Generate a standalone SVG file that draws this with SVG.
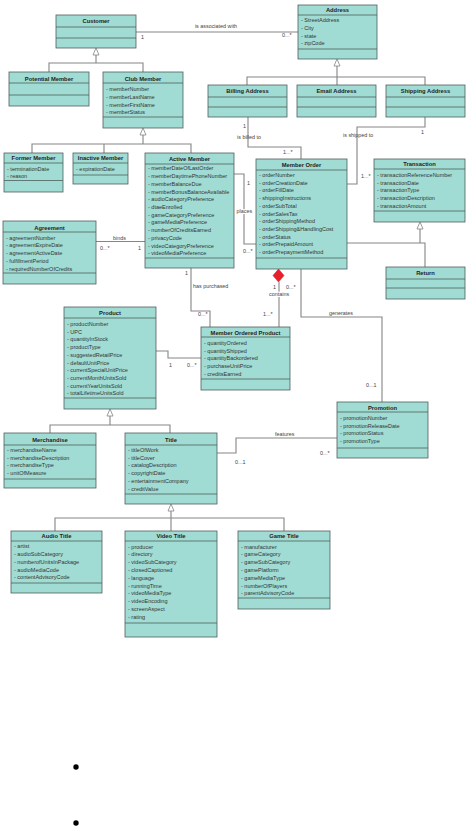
<svg xmlns="http://www.w3.org/2000/svg" width="468" height="826" viewBox="0 0 468 826">
<style>
.n rect{fill:#a0dcd3;stroke:#4f5f5c;stroke-width:0.8}
.n line{stroke:#4f5f5c;stroke-width:0.8}
.h{font-family:"Liberation Sans",Arial,sans-serif;font-size:5.8px;font-weight:bold;fill:#222;text-anchor:middle}
.a{font-family:"Liberation Sans",Arial,sans-serif;font-size:5.5px;fill:#333}
.c path{stroke:#858585;stroke-width:1.1;fill:none}
.c .tri{fill:#fff;stroke:#858585;stroke-width:0.8}
.c .dia{fill:#e8202a;stroke:#e8202a;stroke-width:0.6}
.lb{font-family:"Liberation Sans",Arial,sans-serif;font-size:5.4px;fill:#444}
.halo{paint-order:stroke;stroke:#fff;stroke-width:2.2px;stroke-linejoin:round}
</style>
<rect width="468" height="826" fill="#fff"/>

<g id="connectors" class="c">
  <path d="M136,32 H298"/>
  <path class="tri" d="M96,48 L93,55 L99,55 Z"/>
  <path d="M96,55 V63 M49,72 V63 H143 V72"/>
  <path class="tri" d="M337,59 L334,66 L340,66 Z"/>
  <path d="M337,66 V85 M247,85 V77 H425 V85"/>
  <path class="tri" d="M143,128 L140,135 L146,135 Z"/>
  <path d="M143,135 V144 M32,153 V144 H191 V153 M104,144 V153"/>
  <path d="M248,117 V147 H301 V159"/>
  <path d="M425,117 V127 H357 V184 H347"/>
  <path d="M234,174 H244 V244 H256"/>
  <path d="M96,241.5 H145"/>
  <path d="M191,268 V311 H210 V327"/>
  <path d="M156,351 H168 V358 H201"/>
  <path d="M279,282 V327"/>
  <path class="dia" d="M278.5,269 L284,275.5 L278.5,282 L273,275.5 Z"/>
  <path d="M301,269 V317 H382 V402"/>
  <path class="tri" d="M420,222 L417,229 L423,229 Z"/>
  <path d="M420,229 V243 M347,243 H425 V267"/>
  <path class="tri" d="M110,409 L107,416 L113,416 Z"/>
  <path d="M110,416 V425 M50,433 V425 H170 V433"/>
  <path d="M217,453 H236 V438 H337"/>
  <path class="tri" d="M171,504 L168,511 L174,511 Z"/>
  <path d="M171,511 V531 M55,531 V518 H284 V531"/>
  <text class="lb" x="216" y="28" text-anchor="middle">is associated with</text>
  <text class="lb" x="141" y="39">1</text>
  <text class="lb" x="282" y="37">0...*</text>
  <text class="lb" x="243" y="128">1</text>
  <text class="lb" x="237" y="139">is billed to</text>
  <text class="lb" x="283" y="154">1...*</text>
  <text class="lb" x="421" y="134">1</text>
  <text class="lb" x="343" y="137">is shipped to</text>
  <text class="lb" x="361" y="178">1...*</text>
  <text class="lb" x="247" y="185">1</text>
  <text class="lb halo" x="236.5" y="213">places</text>
  <text class="lb" x="243" y="253">0...*</text>
  <text class="lb" x="113" y="239.5">binds</text>
  <text class="lb" x="100" y="250">0...*</text>
  <text class="lb" x="138" y="250">1</text>
  <text class="lb" x="185" y="275">1</text>
  <text class="lb" x="193" y="288">has purchased</text>
  <text class="lb" x="198" y="316">0...*</text>
  <text class="lb" x="169" y="367">1</text>
  <text class="lb" x="187" y="367">0...*</text>
  <text class="lb" x="273" y="289">1</text>
  <text class="lb" x="286" y="289">0...*</text>
  <text class="lb halo" x="269" y="295.5">contains</text>
  <text class="lb" x="263" y="316">1...*</text>
  <text class="lb" x="329" y="314.5">generates</text>
  <text class="lb" x="366" y="387">0...1</text>
  <text class="lb" x="275" y="435.5">features</text>
  <text class="lb" x="235" y="464">0...1</text>
  <text class="lb" x="320" y="455">0...*</text>
</g>

<g id="customer" class="n">
  <rect x="56" y="15" width="80" height="33"/>
  <line x1="56" y1="27" x2="136" y2="27"/><line x1="56" y1="38" x2="136" y2="38"/>
  <text class="h" x="96" y="23">Customer</text>
</g>

<g id="address" class="n">
  <rect x="298" y="5" width="79" height="54"/>
  <line x1="298" y1="15" x2="377" y2="15"/><line x1="298" y1="49" x2="377" y2="49"/>
  <text class="h" x="337.5" y="12">Address</text>
  <text class="a" x="301" y="22.3">- StreetAddress</text>
  <text class="a" x="301" y="30">- City</text>
  <text class="a" x="301" y="37.7">- state</text>
  <text class="a" x="301" y="45.4">- zipCode</text>
</g>

<g id="potential-member" class="n">
  <rect x="9" y="72" width="80" height="34"/>
  <line x1="9" y1="83" x2="89" y2="83"/><line x1="9" y1="95" x2="89" y2="95"/>
  <text class="h" x="49" y="80.5">Potential Member</text>
</g>

<g id="club-member" class="n">
  <rect x="103" y="72" width="80" height="56"/>
  <line x1="103" y1="83" x2="183" y2="83"/><line x1="103" y1="117" x2="183" y2="117"/>
  <text class="h" x="143" y="80.5">Club Member</text>
  <text class="a" x="106" y="91.3">- memberNumber</text>
  <text class="a" x="106" y="99">- memberLastName</text>
  <text class="a" x="106" y="106.7">- memberFirstName</text>
  <text class="a" x="106" y="114.4">- memberStatus</text>
</g>

<g id="billing-address" class="n">
  <rect x="208" y="85" width="79" height="32"/>
  <line x1="208" y1="97" x2="287" y2="97"/><line x1="208" y1="107" x2="287" y2="107"/>
  <text class="h" x="247.5" y="93">Billing Address</text>
</g>

<g id="email-address" class="n">
  <rect x="297" y="85" width="79" height="32"/>
  <line x1="297" y1="97" x2="376" y2="97"/><line x1="297" y1="107" x2="376" y2="107"/>
  <text class="h" x="336.5" y="93">Email Address</text>
</g>

<g id="shipping-address" class="n">
  <rect x="386" y="85" width="79" height="32"/>
  <line x1="386" y1="97" x2="465" y2="97"/><line x1="386" y1="107" x2="465" y2="107"/>
  <text class="h" x="425.5" y="93">Shipping Address</text>
</g>

<g id="former-member" class="n">
  <rect x="4" y="153" width="59" height="39"/>
  <line x1="4" y1="163" x2="63" y2="163"/><line x1="4" y1="180.5" x2="63" y2="180.5"/>
  <text class="h" x="33.5" y="160">Former Member</text>
  <text class="a" x="7" y="171">- terminationDate</text>
  <text class="a" x="7" y="178.3">- reason</text>
</g>

<g id="inactive-member" class="n">
  <rect x="73" y="153" width="55" height="31"/>
  <line x1="73" y1="163" x2="128" y2="163"/><line x1="73" y1="175" x2="128" y2="175"/>
  <text class="h" x="100.5" y="160">Inactive Member</text>
  <text class="a" x="76" y="171">- expirationDate</text>
</g>

<g id="active-member" class="n">
  <rect x="145" y="153" width="89" height="115"/>
  <line x1="145" y1="164" x2="234" y2="164"/><line x1="145" y1="258" x2="234" y2="258"/>
  <text class="h" x="189.5" y="161">Active Member</text>
  <text class="a" x="148" y="170.3">- memberDateOfLastOrder</text>
  <text class="a" x="148" y="178">- memberDaytimePhoneNumber</text>
  <text class="a" x="148" y="185.8">- memberBalanceDue</text>
  <text class="a" x="148" y="193.5">- memberBonusBalanceAvailable</text>
  <text class="a" x="148" y="201.2">- audioCategoryPreference</text>
  <text class="a" x="148" y="209">- dtaeEnrolled</text>
  <text class="a" x="148" y="216.7">- gameCategoryPreference</text>
  <text class="a" x="148" y="224.4">- gameMediaPreference</text>
  <text class="a" x="148" y="232.1">- numberOfCreditsEarned</text>
  <text class="a" x="148" y="239.9">- privacyCode</text>
  <text class="a" x="148" y="247.6">- videoCategoryPreference</text>
  <text class="a" x="148" y="255.3">- videoMediaPreference</text>
</g>

<g id="member-order" class="n">
  <rect x="256" y="159" width="91" height="110"/>
  <line x1="256" y1="170" x2="347" y2="170"/><line x1="256" y1="258" x2="347" y2="258"/>
  <text class="h" x="301.5" y="166.5">Member Order</text>
  <text class="a" x="259" y="177">- orderNumber</text>
  <text class="a" x="259" y="184.7">- orderCreationDate</text>
  <text class="a" x="259" y="192.4">- orderFillDate</text>
  <text class="a" x="259" y="200.1">- shippingInstructions</text>
  <text class="a" x="259" y="207.8">- orderSubTotal</text>
  <text class="a" x="259" y="215.5">- orderSalesTax</text>
  <text class="a" x="259" y="223.2">- orderShippingMethod</text>
  <text class="a" x="259" y="230.9">- orderShipping&amp;HandlingCost</text>
  <text class="a" x="259" y="238.6">- orderStatus</text>
  <text class="a" x="259" y="246.3">- orderPrepaidAmount</text>
  <text class="a" x="259" y="254">- orderPrepaymentMethod</text>
</g>

<g id="transaction" class="n">
  <rect x="374" y="159" width="91" height="63"/>
  <line x1="374" y1="169" x2="465" y2="169"/><line x1="374" y1="211" x2="465" y2="211"/>
  <text class="h" x="419.5" y="166">Transaction</text>
  <text class="a" x="377" y="177">- transactionReferenceNumber</text>
  <text class="a" x="377" y="184.7">- transactionDate</text>
  <text class="a" x="377" y="192.4">- transactionType</text>
  <text class="a" x="377" y="200.1">- transactionDescription</text>
  <text class="a" x="377" y="207.8">- transactionAmount</text>
</g>

<g id="return" class="n">
  <rect x="386" y="267" width="79" height="32"/>
  <line x1="386" y1="279" x2="465" y2="279"/><line x1="386" y1="288" x2="465" y2="288"/>
  <text class="h" x="425.5" y="275">Return</text>
</g>

<g id="agreement" class="n">
  <rect x="3" y="221" width="93" height="63"/>
  <line x1="3" y1="232" x2="96" y2="232"/><line x1="3" y1="273" x2="96" y2="273"/>
  <text class="h" x="49.5" y="229.5">Agreement</text>
  <text class="a" x="6" y="239.7">- agreementNumber</text>
  <text class="a" x="6" y="247.4">- agreementExpireDate</text>
  <text class="a" x="6" y="255.1">- agreementActiveDate</text>
  <text class="a" x="6" y="262.8">- fulfillmentPeriod</text>
  <text class="a" x="6" y="270.5">- requiredNumberOfCredits</text>
</g>

<g id="product" class="n">
  <rect x="64" y="307" width="92" height="102"/>
  <line x1="64" y1="318" x2="156" y2="318"/><line x1="64" y1="398" x2="156" y2="398"/>
  <text class="h" x="110" y="315">Product</text>
  <text class="a" x="67" y="326">- productNumber</text>
  <text class="a" x="67" y="333.7">- UPC</text>
  <text class="a" x="67" y="341.4">- quantityInStock</text>
  <text class="a" x="67" y="349.1">- productType</text>
  <text class="a" x="67" y="356.8">- suggestedRetailPrice</text>
  <text class="a" x="67" y="364.5">- defaultUnitPrice</text>
  <text class="a" x="67" y="372.2">- currentSpecialUnitPrice</text>
  <text class="a" x="67" y="379.9">- currentMonthUnitsSold</text>
  <text class="a" x="67" y="387.6">- currentYearUnitsSold</text>
  <text class="a" x="67" y="395.3">- totalLifetimeUnitsSold</text>
</g>

<g id="member-ordered-product" class="n">
  <rect x="201" y="327" width="89" height="63"/>
  <line x1="201" y1="337" x2="290" y2="337"/><line x1="201" y1="379" x2="290" y2="379"/>
  <text class="h" x="245.5" y="334.5">Member Ordered Product</text>
  <text class="a" x="204" y="345">- quantityOrdered</text>
  <text class="a" x="204" y="352.7">- quantityShipped</text>
  <text class="a" x="204" y="360.4">- quantityBackordered</text>
  <text class="a" x="204" y="368.1">- purchaseUnitPrice</text>
  <text class="a" x="204" y="375.8">- creditsEarned</text>
</g>

<g id="promotion" class="n">
  <rect x="337" y="402" width="91" height="56"/>
  <line x1="337" y1="412" x2="428" y2="412"/><line x1="337" y1="448" x2="428" y2="448"/>
  <text class="h" x="382.5" y="410">Promotion</text>
  <text class="a" x="340" y="420">- promotionNumber</text>
  <text class="a" x="340" y="427.7">- promotionReleaseDate</text>
  <text class="a" x="340" y="435.4">- promotionStatus</text>
  <text class="a" x="340" y="443.1">- promotionType</text>
</g>

<g id="merchandise" class="n">
  <rect x="4" y="433" width="92" height="55"/>
  <line x1="4" y1="445" x2="96" y2="445"/><line x1="4" y1="479" x2="96" y2="479"/>
  <text class="h" x="50" y="441.5">Merchandise</text>
  <text class="a" x="7" y="452">- merchandiseName</text>
  <text class="a" x="7" y="459.7">- merchandiseDescription</text>
  <text class="a" x="7" y="467.4">- merchandiseType</text>
  <text class="a" x="7" y="475.1">- unitOfMeasure</text>
</g>

<g id="title" class="n">
  <rect x="125" y="433" width="92" height="71"/>
  <line x1="125" y1="445" x2="217" y2="445"/><line x1="125" y1="494" x2="217" y2="494"/>
  <text class="h" x="171" y="441.5">Title</text>
  <text class="a" x="128" y="452">- titleOfWork</text>
  <text class="a" x="128" y="459.7">- titleCover</text>
  <text class="a" x="128" y="467.4">- catalogDescription</text>
  <text class="a" x="128" y="475.1">- copyrightDate</text>
  <text class="a" x="128" y="482.8">- entertainmentCompany</text>
  <text class="a" x="128" y="490.5">- creditValue</text>
</g>

<g id="audio-title" class="n">
  <rect x="11" y="531" width="91" height="62"/>
  <line x1="11" y1="541" x2="102" y2="541"/><line x1="11" y1="583" x2="102" y2="583"/>
  <text class="h" x="56.5" y="538">Audio Title</text>
  <text class="a" x="14" y="548.3">- artist</text>
  <text class="a" x="14" y="556">- audioSubCategory</text>
  <text class="a" x="14" y="563.8">- numberofUnitsInPackage</text>
  <text class="a" x="14" y="571.5">- audioMediaCode</text>
  <text class="a" x="14" y="579.3">- contentAdvisoryCode</text>
</g>

<g id="video-title" class="n">
  <rect x="125" y="531" width="92" height="106"/>
  <line x1="125" y1="541" x2="217" y2="541"/><line x1="125" y1="623" x2="217" y2="623"/>
  <text class="h" x="171" y="538">Video Title</text>
  <text class="a" x="128" y="548.5">- producer</text>
  <text class="a" x="128" y="556.3">- directory</text>
  <text class="a" x="128" y="564.1">- videoSubCategory</text>
  <text class="a" x="128" y="571.9">- closedCaptioned</text>
  <text class="a" x="128" y="579.7">- language</text>
  <text class="a" x="128" y="587.5">- runningTime</text>
  <text class="a" x="128" y="595.3">- videoMediaType</text>
  <text class="a" x="128" y="603.1">- videoEncoding</text>
  <text class="a" x="128" y="610.9">- screenAspect</text>
  <text class="a" x="128" y="618.7">- rating</text>
</g>

<g id="game-title" class="n">
  <rect x="238" y="531" width="92" height="78"/>
  <line x1="238" y1="541" x2="330" y2="541"/><line x1="238" y1="598" x2="330" y2="598"/>
  <text class="h" x="284" y="538">Game Title</text>
  <text class="a" x="241" y="548.5">- manufacturer</text>
  <text class="a" x="241" y="556.3">- gameCategory</text>
  <text class="a" x="241" y="564.1">- gameSubCategory</text>
  <text class="a" x="241" y="571.9">- gamePlatform</text>
  <text class="a" x="241" y="579.7">- gameMediaType</text>
  <text class="a" x="241" y="587.5">- numberOfPlayers</text>
  <text class="a" x="241" y="595.3">- parentAdvisoryCode</text>
</g>

<g id="bullets">
  <circle cx="76" cy="767" r="2.7" fill="#000"/>
  <circle cx="76" cy="823" r="2.7" fill="#000"/>
</g>
</svg>
